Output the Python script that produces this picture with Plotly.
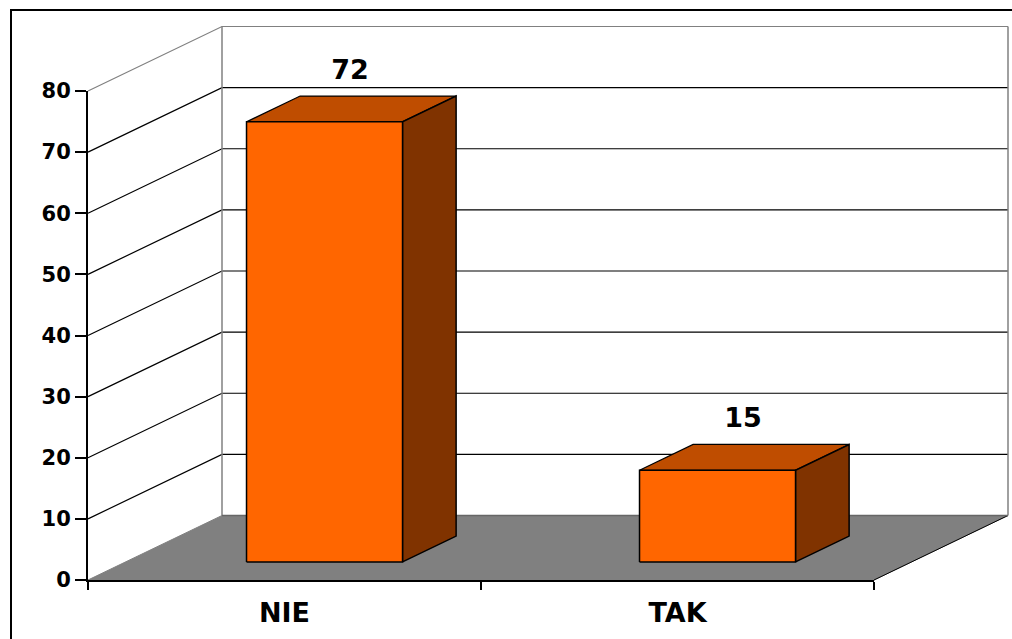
import plotly.graph_objects as go

categories = ["NIE", "TAK"]
values = [72, 15]
y_ticks = [0, 10, 20, 30, 40, 50, 60, 70, 80]
cat_edges = [0, 1, 2]

W, H = 1012, 639
FRONT = "#FF6600"; TOP = "#BF4D00"; SIDE = "#803300"; FLOOR = "#808080"; WALL = "#808080"

# pixel scale of the front plane
PX_X = 393.0
PX_Y = 6.1125
X0, Y0 = 88, 580
# oblique projection: depth d (0 front ... 1 back) shifts points right/up in data units
DX = 134 / PX_X
DY = 64.5 / PX_Y
BAR_HALF = 78 / PX_X
BAR_SHIFT = 2.5 / PX_X
BAR_D0 = 0.28
BAR_D1 = 0.68

# drawing canvas in pixels (invisible axes, same scale as the front axes)
CL, CR, CT, CB = 80, 1012, 15, 592


def pr(x, y, d):
    return x + d * DX, y + d * DY


def poly(pts, fill, line, lw=1.0, closed=True):
    xs = [p[0] for p in pts]
    ys = [p[1] for p in pts]
    if closed:
        xs.append(xs[0]); ys.append(ys[0])
    return go.Scatter(x=xs, y=ys, mode="lines", fill="toself" if fill else None,
                      fillcolor=fill, line=dict(color=line, width=lw),
                      hoverinfo="skip", showlegend=False, cliponaxis=False)


fig = go.Figure()
xmin, xmax = cat_edges[0], cat_edges[-1]
ymin, ymax = y_ticks[0], y_ticks[-1]

# floor
fig.add_trace(poly([pr(xmin, 0, 0), pr(xmin, 0, 1), pr(xmax, 0, 1), pr(xmax, 0, 0)], FLOOR, FLOOR, 1))
fig.add_trace(poly([pr(xmax, 0, 0), pr(xmax, 0, 1)], None, "black", 1, closed=False))
# gridlines on left and back walls
for t in y_ticks[1:]:
    c = WALL if t == ymax else "black"
    fig.add_trace(poly([pr(xmin, t, 0), pr(xmin, t, 1), pr(xmax, t, 1)], None, c, 1.2, closed=False))
# back wall edges
fig.add_trace(poly([pr(xmin, 0, 1), pr(xmin, ymax, 1)], None, WALL, 1.5, closed=False))
fig.add_trace(poly([pr(xmax, 0, 1), pr(xmax, ymax, 1)], None, WALL, 1.5, closed=False))
fig.add_trace(poly([pr(xmin, 0, 1), pr(xmax, 0, 1)], None, "#666666", 1.5, closed=False))

# bars
centers = [i + 0.5 for i in range(len(categories))]
for c, v in zip(centers, values):
    l, r = c - BAR_HALF + BAR_SHIFT, c + BAR_HALF + BAR_SHIFT
    fig.add_trace(poly([pr(l, v, BAR_D0), pr(l, v, BAR_D1), pr(r, v, BAR_D1), pr(r, v, BAR_D0)], TOP, "black", 1.2))
    fig.add_trace(poly([pr(r, 0, BAR_D0), pr(r, 0, BAR_D1), pr(r, v, BAR_D1), pr(r, v, BAR_D0)], SIDE, "black", 1.5))
    fig.add_trace(poly([pr(l, 0, BAR_D0), pr(r, 0, BAR_D0), pr(r, v, BAR_D0), pr(l, v, BAR_D0)], FRONT, "black", 1.5))

# value labels
lx, ly = zip(*[pr(c + BAR_SHIFT / 2, v + 3.8, (BAR_D0 + BAR_D1) / 2) for c, v in zip(centers, values)])
fig.add_trace(go.Scatter(x=lx, y=ly, mode="text", text=[str(v) for v in values],
                         textposition="top center", cliponaxis=False, showlegend=False, hoverinfo="skip",
                         textfont=dict(family="DejaVu Sans", size=27, color="black", weight="bold")))

# trace that carries the visible front axes
fig.add_trace(go.Scatter(x=[xmin, xmax], y=[ymin, ymax], mode="markers", marker=dict(opacity=0),
                         xaxis="x2", yaxis="y2", showlegend=False, hoverinfo="skip"))

fig.update_layout(
    width=W, height=H, margin=dict(l=0, r=0, t=0, b=0),
    paper_bgcolor="white", plot_bgcolor="rgba(0,0,0,0)", autosize=False,
    xaxis=dict(domain=[CL / W, CR / W], range=[(CL - X0) / PX_X, (CR - X0) / PX_X], visible=False,
               automargin=False, anchor="y"),
    yaxis=dict(domain=[(H - CB) / H, (H - CT) / H], range=[(Y0 - CB) / PX_Y, (Y0 - CT) / PX_Y], visible=False,
               automargin=False, anchor="x"),
    xaxis2=dict(domain=[X0 / W, 874 / W], range=[xmin, xmax], tickmode="array", anchor="y2", automargin=False,
                tickvals=centers, ticktext=categories, ticks="", showgrid=False, zeroline=False,
                showline=True, linecolor="black", linewidth=2, ticklabelstandoff=8,
                tickfont=dict(family="DejaVu Sans", size=27, color="black", weight="bold"),
                minor=dict(tickmode="array", tickvals=cat_edges, ticks="outside", ticklen=8,
                           tickwidth=2, tickcolor="black", showgrid=False)),
    yaxis2=dict(domain=[(H - Y0) / H, (H - 91) / H], range=[ymin, ymax], tickmode="array", anchor="x2", automargin=False,
                tickvals=y_ticks, ticks="outside", ticklen=11, tickwidth=1.5, tickcolor="black",
                showgrid=False, zeroline=False, showline=True, linecolor="black", linewidth=2,
                ticklabelstandoff=0,
                tickfont=dict(family="DejaVu Sans", size=21, color="black", weight="bold")),
    shapes=[dict(type="path", xref="paper", yref="paper",
                 path="M %f,0 L %f,%f L 1,%f" % (11 / W, 11 / W, 1 - 10 / H, 1 - 10 / H),
                 line=dict(color="black", width=2))],
)

fig.write_html("out.html", config=dict(displayModeBar=False),
               post_script="document.body.style.margin='0';document.body.style.overflow='hidden';")
